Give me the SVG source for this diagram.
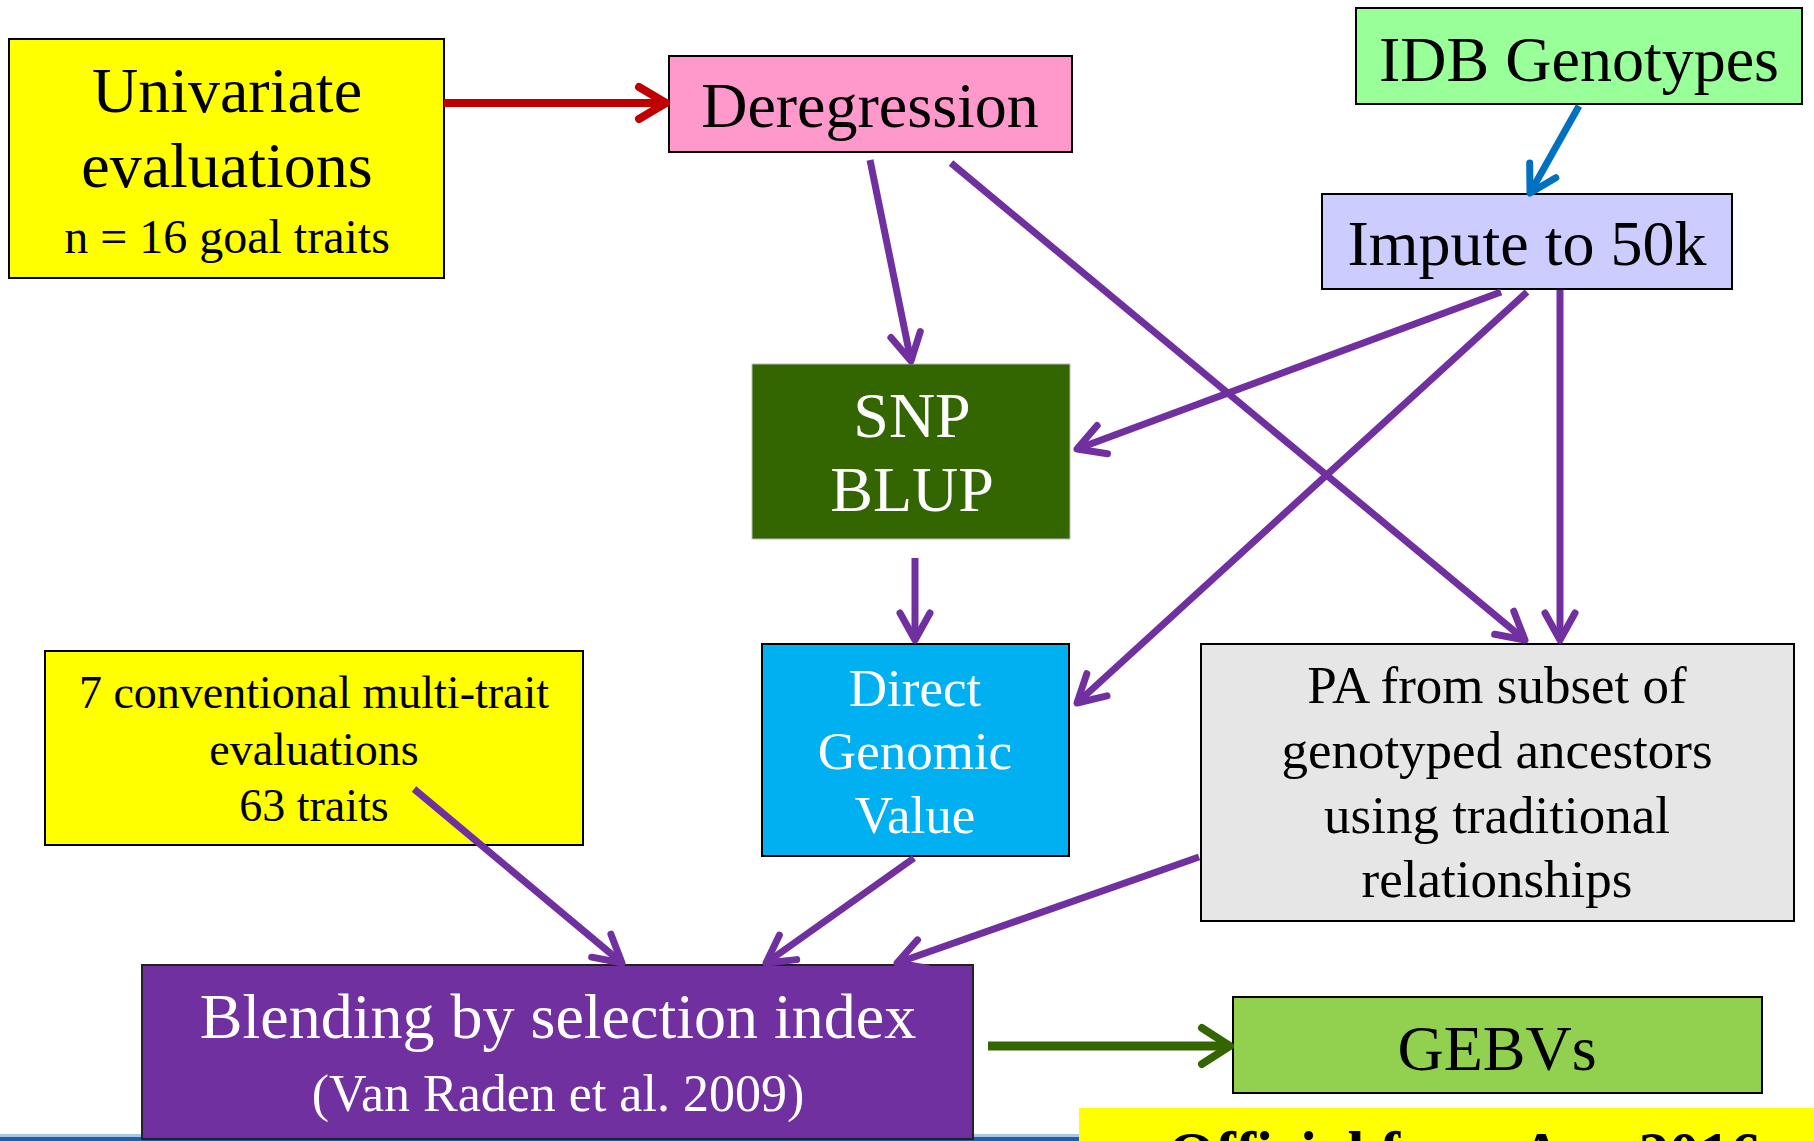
<svg xmlns="http://www.w3.org/2000/svg" width="1814" height="1141" viewBox="0 0 1814 1141">
<style>
.t{font-family:"Liberation Serif","Times New Roman",serif;text-anchor:middle}
.b{stroke:#000;stroke-width:2}
.p{stroke:#7030A0;stroke-width:7;fill:none}
</style>
<defs>
<marker id="mp" markerUnits="userSpaceOnUse" markerWidth="70" markerHeight="70" viewBox="-35 -35 70 70" refX="0" refY="0" orient="auto">
<path d="M-27,-15 L0,0 L-27,15" fill="none" stroke="#7030A0" stroke-width="7" stroke-linecap="round" stroke-linejoin="round"/>
</marker>
<marker id="mr" markerUnits="userSpaceOnUse" markerWidth="70" markerHeight="70" viewBox="-35 -35 70 70" refX="0" refY="0" orient="auto">
<path d="M-27,-16 L0,0 L-27,16" fill="none" stroke="#C00000" stroke-width="8" stroke-linecap="round" stroke-linejoin="round"/>
</marker>
<marker id="mb" markerUnits="userSpaceOnUse" markerWidth="70" markerHeight="70" viewBox="-35 -35 70 70" refX="0" refY="0" orient="auto">
<path d="M-26,-15 L0,0 L-26,15" fill="none" stroke="#0070C0" stroke-width="7" stroke-linecap="round" stroke-linejoin="round"/>
</marker>
<marker id="mg" markerUnits="userSpaceOnUse" markerWidth="70" markerHeight="70" viewBox="-35 -35 70 70" refX="0" refY="0" orient="auto">
<path d="M-28,-18 L0,0 L-28,18" fill="none" stroke="#336600" stroke-width="8" stroke-linecap="round" stroke-linejoin="round"/>
</marker>
</defs>
<rect x="0" y="0" width="1814" height="1141" fill="#fff"/>
<rect x="0" y="1134" width="1080" height="3" fill="#A9C6E8"/>
<rect x="0" y="1137" width="1080" height="4" fill="#1F5FA8"/>

<g id="univariate">
<rect x="9" y="39" width="435" height="239" fill="#FFFF00" class="b"/>
<text class="t" x="227" y="112" font-size="64">Univariate</text>
<text class="t" x="227" y="187" font-size="64">evaluations</text>
<text class="t" x="227" y="253" font-size="48">n = 16 goal traits</text>
</g>
<g id="deregression">
<rect x="669" y="56" width="403" height="96" fill="#FF99CC" class="b"/>
<text class="t" x="870" y="127" font-size="64">Deregression</text>
</g>
<g id="idb">
<rect x="1356" y="8" width="446" height="96" fill="#99FF99" class="b"/>
<text class="t" x="1579" y="81" font-size="64">IDB Genotypes</text>
</g>
<g id="impute">
<rect x="1322" y="194" width="410" height="95" fill="#CCCCFF" class="b"/>
<text class="t" x="1527" y="265" font-size="64">Impute to 50k</text>
</g>
<g id="snpblup">
<rect x="752" y="364" width="318" height="175" fill="#336600" stroke="#bbb" stroke-width="1"/>
<text class="t" x="912" y="437" font-size="64" fill="#fff">SNP</text>
<text class="t" x="912" y="511" font-size="64" fill="#fff">BLUP</text>
</g>
<g id="dgv">
<rect x="762" y="644" width="307" height="212" fill="#00B0F0" class="b"/>
<text class="t" x="915" y="706" font-size="53" fill="#fff">Direct</text>
<text class="t" x="915" y="769" font-size="53" fill="#fff">Genomic</text>
<text class="t" x="915" y="833" font-size="53" fill="#fff">Value</text>
</g>
<g id="pa">
<rect x="1201" y="644" width="593" height="277" fill="#E6E6E6" class="b"/>
<text class="t" x="1497" y="703" font-size="53">PA from subset of</text>
<text class="t" x="1497" y="768" font-size="53">genotyped ancestors</text>
<text class="t" x="1497" y="833" font-size="53">using traditional</text>
<text class="t" x="1497" y="897" font-size="53">relationships</text>
</g>
<g id="conventional">
<rect x="45" y="651" width="538" height="194" fill="#FFFF00" class="b"/>
<text class="t" x="314" y="708" font-size="46">7 conventional multi-trait</text>
<text class="t" x="314" y="765" font-size="46">evaluations</text>
<text class="t" x="314" y="821" font-size="46">63 traits</text>
</g>
<g id="blending">
<rect x="142" y="965" width="831" height="174" fill="#7030A0" stroke="#222" stroke-width="2"/>
<text class="t" x="558" y="1038" font-size="64" fill="#fff">Blending by selection index</text>
<text class="t" x="558" y="1111" font-size="52" fill="#fff">(Van Raden et al. 2009)</text>
</g>
<g id="gebvs">
<rect x="1233" y="997" width="529" height="96" fill="#92D050" class="b"/>
<text class="t" x="1497" y="1070" font-size="64">GEBVs</text>
</g>
<g id="official">
<rect x="1079" y="1108" width="735" height="40" fill="#FFFF00"/>
<text x="1168" y="1174" font-size="61" font-weight="bold" font-family="Liberation Serif,'Times New Roman',serif">Official from Apr 2016</text>
</g>

<g id="connectors">
<line x1="444" y1="103" x2="666" y2="103" stroke="#C00000" stroke-width="8" marker-end="url(#mr)"/>
<line x1="1579" y1="106" x2="1530" y2="193" stroke="#0070C0" stroke-width="7" marker-end="url(#mb)"/>
<line x1="870" y1="160" x2="911" y2="361" class="p" marker-end="url(#mp)"/>
<line x1="951" y1="163" x2="1525" y2="640" class="p" marker-end="url(#mp)"/>
<line x1="1501" y1="292" x2="1077" y2="449" class="p" marker-end="url(#mp)"/>
<line x1="1527" y1="292" x2="1077" y2="703" class="p" marker-end="url(#mp)"/>
<line x1="1560" y1="290" x2="1560" y2="640" class="p" marker-end="url(#mp)"/>
<line x1="915" y1="558" x2="915" y2="640" class="p" marker-end="url(#mp)"/>
<line x1="414" y1="789" x2="622" y2="963" class="p" marker-end="url(#mp)"/>
<line x1="914" y1="858" x2="766" y2="963" class="p" marker-end="url(#mp)"/>
<line x1="1199" y1="857" x2="897" y2="963" class="p" marker-end="url(#mp)"/>
<line x1="988" y1="1046" x2="1230" y2="1046" stroke="#336600" stroke-width="9" marker-end="url(#mg)"/>
</g>
</svg>
